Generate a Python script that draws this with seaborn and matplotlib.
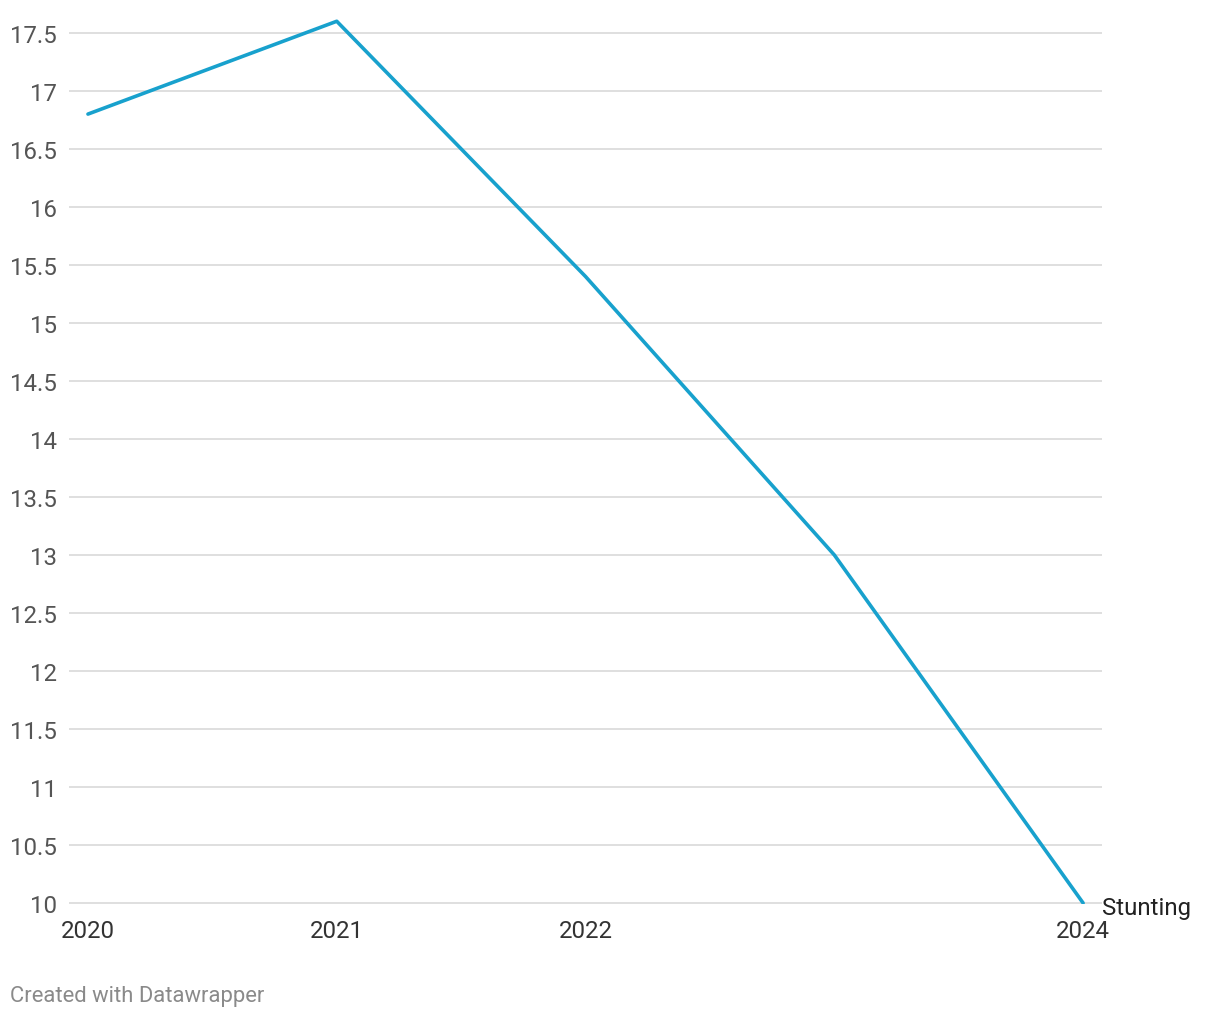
import matplotlib
matplotlib.use("Agg")
import matplotlib.pyplot as plt
import seaborn as sns
import pandas as pd

# Stunting values
years = [2020, 2021, 2022, 2023, 2024]
stunting = [16.8, 17.6, 15.4, 13.0, 10.0]
x_ticks = [2020, 2021, 2022, 2024]
y_ticks = [10, 10.5, 11, 11.5, 12, 12.5, 13, 13.5, 14, 14.5, 15, 15.5, 16, 16.5, 17, 17.5]
y_tick_labels = ["10", "10.5", "11", "11.5", "12", "12.5", "13", "13.5", "14",
                 "14.5", "15", "15.5", "16", "16.5", "17", "17.5"]

df = pd.DataFrame({"Year": years, "Stunting": stunting})

sns.set_theme(style="white")
plt.rcParams["font.family"] = ["Roboto", "DejaVu Sans"]

fig = plt.figure(figsize=(12.2, 10.2), dpi=100)
# axes box: x 69..1102 px, y 15..905 px
ax = fig.add_axes([0.0566, 0.1127, 0.8467, 0.8723])

sns.lineplot(data=df, x="Year", y="Stunting", color="#18a1cd", linewidth=2.6, ax=ax)

ax.set_xlim(2019.924, 2024.076)
ax.set_ylim(9.9914, 17.66)
ax.set_xticks(x_ticks)
ax.set_xticklabels([str(t) for t in x_ticks])
ax.set_yticks(y_ticks)
ax.set_yticklabels(y_tick_labels)
ax.set_xlabel("")
ax.set_ylabel("")

ax.yaxis.grid(True, color="#d6d6d6", linewidth=1.1)
ax.xaxis.grid(False)
for s in ax.spines.values():
    s.set_visible(False)
ax.tick_params(axis="y", length=0, pad=8.5, labelsize=17.3, labelcolor="#555555")
ax.tick_params(axis="x", length=0, pad=11, labelsize=17.3, labelcolor="#333333")
ax.set_axisbelow(True)

# line label at the end
ax.text(years[-1] + 0.076, stunting[-1] - 0.035, "Stunting", fontsize=17.3,
        color="#222222", ha="left", va="center", clip_on=False)

fig.text(10 / 1220, 1 - 997 / 1020, "Created with Datawrapper", fontsize=15.8,
         color="#8a8a8a", ha="left", va="center")

fig.savefig("out.png", dpi=100)
